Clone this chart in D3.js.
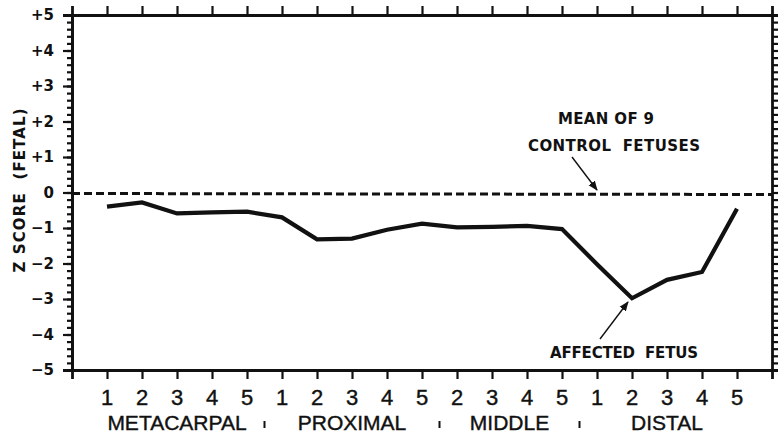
<!DOCTYPE html>
<html>
<head>
<meta charset="utf-8">
<script src="https://cdn.jsdelivr.net/npm/d3@7"></script>
<style>
  body { margin: 0; background: #fff; }
  text { fill: #111; }
  .spaced { white-space: pre; }
</style>
</head>
<body>
<div id="chart"></div>
<script>
// Data
var groups = ["METACARPAL", "PROXIMAL", "MIDDLE", "DISTAL"];
var boneNumbers = [
  [1, 2, 3, 4, 5],
  [1, 2, 3, 4, 5],
  [2, 3, 4, 5],
  [1, 2, 3, 4, 5]
];
var affectedZ = [
  -0.40, -0.28, -0.59, -0.56, -0.54,
  -0.70, -1.32, -1.30, -1.05, -0.88,
  -0.98, -0.97, -0.94, -1.03,
  -2.02, -2.98, -2.46, -2.24, -0.46
];
var controlMean = 0;
var yTicks = [5, 4, 3, 2, 1, 0, -1, -2, -3, -4, -5];
var yTickLabels = ["+5", "+4", "+3", "+2", "+1", "0", "\u22121", "\u22122", "\u22123", "\u22124", "\u22125"];

var svgWidth = 780;
var svgHeight = 433;
var margin = { top: 15, right: 8, bottom: 63, left: 72 };
var width = svgWidth - margin.left - margin.right;
var height = svgHeight - margin.top - margin.bottom;

var svg = d3.select("#chart")
  .append("svg")
  .attr("width", svgWidth)
  .attr("height", svgHeight);

var chartGroup = svg.append("g")
  .attr("transform", `translate(${margin.left}, ${margin.top})`);

// flatten the bones into one list of points
var points = [];
boneNumbers.forEach(function(nums, g) {
  nums.forEach(function(n) {
    points.push({ key: g + "-" + n, group: g, num: n });
  });
});
points.forEach(function(p, i) { p.z = affectedZ[i]; });

var xScale = d3.scalePoint()
  .domain(points.map(d => d.key))
  .range([0, width])
  .padding(1);

var yScale = d3.scaleLinear()
  .domain([-5, 5])
  .range([height, 0]);

var ink = "#111";

// Axes: bottom and top with outward ticks, no labels from d3
var bottomAxis = d3.axisBottom(xScale).tickSize(9).tickFormat("");
var topAxis = d3.axisTop(xScale).tickSize(9).tickFormat("");
var leftMinor = d3.axisLeft(yScale).ticks(50).tickSize(5).tickFormat("");
var leftMajor = d3.axisLeft(yScale).tickValues(yTicks).tickSize(9).tickFormat("");
var rightMinor = d3.axisRight(yScale).ticks(50).tickSize(6).tickFormat("");

function styleAxis(g) {
  g.selectAll("path").attr("stroke", ink).attr("stroke-width", 2.8);
  g.selectAll("line").attr("stroke", ink).attr("stroke-width", 2.2);
}

chartGroup.append("g")
  .attr("transform", `translate(0, ${height})`)
  .call(bottomAxis)
  .call(styleAxis);

chartGroup.append("g")
  .call(topAxis)
  .call(styleAxis);

chartGroup.append("g")
  .call(leftMinor)
  .call(styleAxis);

chartGroup.append("g")
  .call(leftMajor)
  .call(styleAxis);

chartGroup.append("g")
  .attr("transform", `translate(${width}, 0)`)
  .call(rightMinor)
  .call(styleAxis);

// y tick labels
chartGroup.selectAll(".ylab")
  .data(yTicks)
  .enter()
  .append("text")
  .attr("class", "ylab")
  .attr("x", -18)
  .attr("y", d => yScale(d))
  .attr("dy", "0.36em")
  .attr("text-anchor", "end")
  .attr("font-family", "DejaVu Sans")
  .attr("font-weight", "bold")
  .attr("font-size", "15px")
  .text((d, i) => yTickLabels[i]);

// y axis title
chartGroup.append("text")
  .attr("class", "spaced")
  .attr("transform", "rotate(-90)")
  .attr("x", -(yScale(0) - 2))
  .attr("y", -47)
  .attr("text-anchor", "middle")
  .attr("font-family", "DejaVu Sans")
  .attr("font-weight", "bold")
  .attr("font-size", "15px")
  .attr("textLength", 164)
  .attr("lengthAdjust", "spacing")
  .text("Z SCORE  (FETAL)");

// bone numbers under the ticks
chartGroup.selectAll(".xlab")
  .data(points)
  .enter()
  .append("text")
  .attr("class", "xlab")
  .attr("x", d => xScale(d.key))
  .attr("y", height + 35)
  .attr("text-anchor", "middle")
  .attr("font-family", "Liberation Sans")
  .attr("font-size", "22px")
  .attr("stroke", ink)
  .attr("stroke-width", 0.4)
  .text(d => d.num);

// group names, centred under their bones
var groupCenters = groups.map(function(name, g) {
  var xs = points.filter(p => p.group === g).map(p => xScale(p.key));
  return { name: name, x: d3.mean(xs), first: d3.min(xs), last: d3.max(xs) };
});

chartGroup.selectAll(".glab")
  .data(groupCenters)
  .enter()
  .append("text")
  .attr("class", "glab")
  .attr("x", d => d.x)
  .attr("y", height + 60)
  .attr("text-anchor", "middle")
  .attr("font-family", "Liberation Sans")
  .attr("font-size", "21px")
  .attr("stroke", ink)
  .attr("stroke-width", 0.4)
  .text(d => d.name);

// little separators between the group names
chartGroup.selectAll(".sep")
  .data(groupCenters.slice(1))
  .enter()
  .append("line")
  .attr("class", "sep")
  .attr("x1", (d, i) => (groupCenters[i].last + d.first) / 2)
  .attr("x2", (d, i) => (groupCenters[i].last + d.first) / 2)
  .attr("y1", height + 51)
  .attr("y2", height + 58)
  .attr("stroke", ink)
  .attr("stroke-width", 2);

// mean of controls (dashed)
chartGroup.append("line")
  .attr("x1", 0)
  .attr("x2", width)
  .attr("y1", yScale(controlMean) + 1)
  .attr("y2", yScale(controlMean) + 2)
  .attr("stroke", ink)
  .attr("stroke-width", 3)
  .attr("stroke-dasharray", "8,4");

// affected fetus line
var line = d3.line()
  .x(d => xScale(d.key))
  .y(d => yScale(d.z));

chartGroup.append("path")
  .datum(points)
  .attr("d", line)
  .attr("fill", "none")
  .attr("stroke", ink)
  .attr("stroke-width", 4.2)
  .attr("stroke-linejoin", "miter");

// annotations
svg.append("defs").append("marker")
  .attr("id", "head")
  .attr("viewBox", "0 0 10 10")
  .attr("refX", 9)
  .attr("refY", 5)
  .attr("markerWidth", 7)
  .attr("markerHeight", 7)
  .attr("orient", "auto")
  .append("path")
  .attr("d", "M0,1 L10,5 L0,9 Z")
  .attr("fill", ink);

function note(txt, cx, y, len) {
  chartGroup.append("text")
    .attr("class", "spaced")
    .attr("x", cx - margin.left)
    .attr("y", y - margin.top)
    .attr("text-anchor", "middle")
    .attr("font-family", "DejaVu Sans")
    .attr("font-weight", "bold")
    .attr("font-size", "15px")
    .attr("textLength", len)
    .attr("lengthAdjust", "spacing")
    .text(txt);
}

note("MEAN OF 9", 606, 124, 96);
note("CONTROL  FETUSES", 614, 151, 172);
note("AFFECTED  FETUS", 624, 358, 148);

function arrow(x1, y1, x2, y2) {
  chartGroup.append("line")
    .attr("x1", x1 - margin.left)
    .attr("y1", y1 - margin.top)
    .attr("x2", x2 - margin.left)
    .attr("y2", y2 - margin.top)
    .attr("stroke", ink)
    .attr("stroke-width", 1.4)
    .attr("marker-end", "url(#head)");
}

arrow(572, 157, 597, 190);
arrow(600, 339, 628, 302);
</script>
</body>
</html>
